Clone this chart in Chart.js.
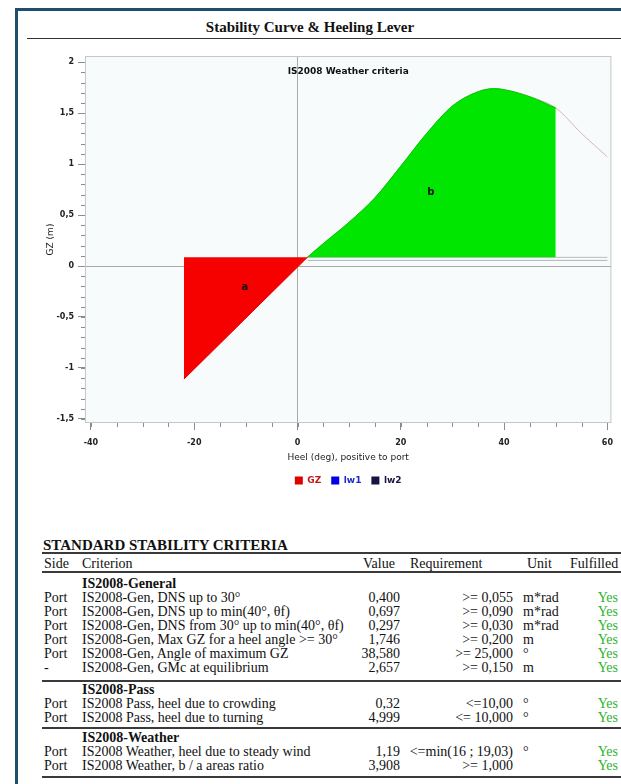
<!DOCTYPE html>
<html lang="en">
<head>
<meta charset="UTF-8">
<title>Stability Curve &amp; Heeling Lever</title>
<script src="https://cdn.jsdelivr.net/npm/chart.js"></script>
<style>
    body {
        margin: 0;
        width: 621px;
        height: 784px;
        overflow: hidden;
        position: relative;
        background: #fff;
        color: #111;
        font-family: "Liberation Serif", "Times New Roman", serif;
    }
    .frame {
        position: absolute;
        left: 15px;
        top: 8px;
        width: 700px;
        height: 800px;
        border-left: 3px solid #1d4e6e;
        border-top: 3px solid #1d4e6e;
    }
    .head {
        position: absolute;
        left: 27px;
        top: 17px;
        width: 566px;
        padding-right: 28px;
        height: 21px;
        line-height: 20px;
        border-bottom: 1.5px solid #333;
        text-align: center;
        font-weight: bold;
        font-size: 15px;
    }
    .chartbox {
        position: absolute;
        left: 20px;
        top: 46px;
        width: 601px;
        height: 450px;
    }
    .crit-title {
        position: absolute;
        left: 43px;
        top: 537px;
        font-weight: bold;
        font-size: 15px;
        line-height: 16px;
    }
    table {
        position: absolute;
        left: 42px;
        top: 552px;
        width: 579px;
        border-collapse: collapse;
        table-layout: fixed;
        font-size: 14px;
        line-height: 14px;
        border-top: 2px solid #3a3a3a;
    }
    th { font-weight: normal; text-align: left; padding: 3px 0 0 0; border-bottom: 2px solid #3a3a3a; white-space: nowrap; }
    td { padding: 0; white-space: nowrap; }
    tbody { border-bottom: 2px solid #3a3a3a; }
    .side { padding-left: 2px; }
    .crit { padding-left: 2px; }
    .val { text-align: right; padding-right: 2px; }
    .req { text-align: right; padding-right: 2px; }
    .unit { padding-left: 8px; }
    .ok { text-align: right; padding-right: 3px; color: #2cb52c; }
    .grp td { font-weight: bold; }
    .g1 .grp td { padding-top: 4px; }
    .g1 tr:last-child td { padding-bottom: 5px; }
    .g2 .grp td { padding-top: 1px; }
    .g2 tr:last-child td { padding-bottom: 2px; }
    .g3 .grp td { padding-top: 2px; }
    .g3 tr:last-child td { padding-bottom: 3px; }
</style>
</head>
<body>
<div class="frame"></div>
<div class="head">Stability Curve &amp; Heeling Lever</div>

<div class="chartbox"><canvas id="gzChart"></canvas></div>

<div class="crit-title">STANDARD STABILITY CRITERIA</div>
<table>
    <colgroup>
        <col style="width:38px"><col style="width:275px"><col style="width:47px">
        <col style="width:113px"><col style="width:50px"><col style="width:56px">
    </colgroup>
    <thead>
        <tr>
            <th style="padding-left:2px">Side</th>
            <th style="padding-left:2px">Criterion</th>
            <th style="padding-left:8px">Value</th>
            <th style="padding-left:8px">Requirement</th>
            <th style="padding-left:12px">Unit</th>
            <th style="padding-left:5px">Fulfilled</th>
        </tr>
    </thead>
    <tbody class="g1">
        <tr class="grp"><td></td><td class="crit">IS2008-General</td><td></td><td></td><td></td><td></td></tr>
        <tr><td class="side">Port</td><td class="crit">IS2008-Gen, DNS up to 30°</td><td class="val">0,400</td><td class="req">&gt;= 0,055</td><td class="unit">m*rad</td><td class="ok">Yes</td></tr>
        <tr><td class="side">Port</td><td class="crit">IS2008-Gen, DNS up to min(40°, θf)</td><td class="val">0,697</td><td class="req">&gt;= 0,090</td><td class="unit">m*rad</td><td class="ok">Yes</td></tr>
        <tr><td class="side">Port</td><td class="crit">IS2008-Gen, DNS from 30° up to min(40°, θf)</td><td class="val">0,297</td><td class="req">&gt;= 0,030</td><td class="unit">m*rad</td><td class="ok">Yes</td></tr>
        <tr><td class="side">Port</td><td class="crit">IS2008-Gen, Max GZ for a heel angle &gt;= 30°</td><td class="val">1,746</td><td class="req">&gt;= 0,200</td><td class="unit">m</td><td class="ok">Yes</td></tr>
        <tr><td class="side">Port</td><td class="crit">IS2008-Gen, Angle of maximum GZ</td><td class="val">38,580</td><td class="req">&gt;= 25,000</td><td class="unit">°</td><td class="ok">Yes</td></tr>
        <tr><td class="side">-</td><td class="crit">IS2008-Gen, GMc at equilibrium</td><td class="val">2,657</td><td class="req">&gt;= 0,150</td><td class="unit">m</td><td class="ok">Yes</td></tr>
    </tbody>
    <tbody class="g2">
        <tr class="grp"><td></td><td class="crit">IS2008-Pass</td><td></td><td></td><td></td><td></td></tr>
        <tr><td class="side">Port</td><td class="crit">IS2008 Pass, heel due to crowding</td><td class="val">0,32</td><td class="req">&lt;=10,00</td><td class="unit">°</td><td class="ok">Yes</td></tr>
        <tr><td class="side">Port</td><td class="crit">IS2008 Pass, heel due to turning</td><td class="val">4,999</td><td class="req">&lt;= 10,000</td><td class="unit">°</td><td class="ok">Yes</td></tr>
    </tbody>
    <tbody class="g3">
        <tr class="grp"><td></td><td class="crit">IS2008-Weather</td><td></td><td></td><td></td><td></td></tr>
        <tr><td class="side">Port</td><td class="crit">IS2008 Weather, heel due to steady wind</td><td class="val">1,19</td><td class="req">&lt;=min(16 ; 19,03)</td><td class="unit">°</td><td class="ok">Yes</td></tr>
        <tr><td class="side">Port</td><td class="crit">IS2008 Weather, b / a areas ratio</td><td class="val">3,908</td><td class="req">&gt;= 1,000</td><td class="unit"></td><td class="ok">Yes</td></tr>
    </tbody>
</table>

<script>
// GZ curve (heel in deg, GZ in m)
var heel = [-22, -20, -15, -10, -5, 0, 2, 5, 10, 15, 20, 25, 30, 35, 38, 40, 45, 50, 55, 60];
var gz = [-1.11, -1.01, -0.76, -0.51, -0.26, -0.01, 0.09, 0.22, 0.43, 0.67, 0.98, 1.30, 1.57, 1.71, 1.74, 1.73, 1.66, 1.55, 1.30, 1.07];

// heeling levers
var lwHeel = [2, 60];
var lw1 = [0.085, 0.085];
var lw2 = [0.055, 0.055];

// limits of the two areas
var areaAEnd = 2;    // heel where GZ meets the lever
var areaBEnd = 50;   // end of area b
var leverLevel = 0.085;

var legendNames = ['GZ', 'lw1', 'lw2'];
var legendBox = ['#e00000', '#0000e6', '#15153f'];
var legendText = ['#c01818', '#1c28c8', '#15153f'];

function pts(xs, ys, from, to) {
    var out = [];
    for (var i = 0; i < xs.length; i++) {
        if (xs[i] >= from && xs[i] <= to) out.push({x: xs[i], y: ys[i]});
    }
    return out;
}

function fmt(v) {
    return String(v).replace('.', ',');
}

// light plot background, frame, minor ticks and the texts inside the plot
var plotDecor = {
    id: 'plotDecor',
    beforeDraw: function (chart) {
        var ctx = chart.ctx, a = chart.chartArea;
        ctx.save();
        ctx.fillStyle = '#f7fbfc';
        ctx.fillRect(a.left, a.top, a.right - a.left, a.bottom - a.top);
        ctx.restore();
    },
    afterDraw: function (chart) {
        var ctx = chart.ctx, a = chart.chartArea;
        var x = chart.scales.x, y = chart.scales.y;
        ctx.save();
        ctx.strokeStyle = '#c4c8cc';
        ctx.lineWidth = 1;
        ctx.strokeRect(a.left + 0.5, a.top + 0.5, a.right - a.left - 1, a.bottom - a.top - 1);

        ctx.strokeStyle = '#8c8c8c';
        ctx.beginPath();
        for (var v = -40; v <= 60; v += 5) {
            var px = Math.round(x.getPixelForValue(v)) + 0.5;
            ctx.moveTo(px, a.bottom);
            ctx.lineTo(px, a.bottom + 4);
        }
        for (var i = -15; i <= 20; i++) {
            var py = Math.round(y.getPixelForValue(i / 10)) + 0.5;
            ctx.moveTo(a.left - 4, py);
            ctx.lineTo(a.left, py);
        }
        ctx.stroke();

        ctx.fillStyle = '#111';
        ctx.textAlign = 'center';
        ctx.textBaseline = 'middle';
        ctx.font = 'bold 9px "DejaVu Sans"';
        ctx.fillText('IS2008 Weather criteria', (a.left + a.right) / 2, a.top + 16);
        ctx.font = 'bold 10px "DejaVu Sans"';
        ctx.fillText('a', x.getPixelForValue(-10.2), y.getPixelForValue(-0.21));
        ctx.fillText('b', x.getPixelForValue(25.8), y.getPixelForValue(0.72));
        ctx.restore();
    }
};

var ctx = document.getElementById('gzChart').getContext('2d');
var gzChart = new Chart(ctx, {
    type: 'line',
    data: {
        datasets: [
            {
                label: 'a',
                data: pts(heel, gz, -90, areaAEnd),
                borderColor: '#f00000',
                borderWidth: 1,
                backgroundColor: '#f70000',
                fill: {value: leverLevel},
                order: 1
            },
            {
                label: 'b',
                data: pts(heel, gz, areaAEnd, areaBEnd),
                borderColor: '#00c800',
                borderWidth: 1,
                backgroundColor: '#00e600',
                fill: {value: leverLevel},
                order: 1
            },
            {
                label: 'GZ',
                data: pts(heel, gz, -90, 90),
                borderColor: '#dcb4b4',
                borderWidth: 1,
                fill: false,
                order: 3
            },
            {
                label: 'lw1',
                data: pts(lwHeel, lw1, -90, 90),
                borderColor: '#b8bcc0',
                borderWidth: 1,
                fill: false,
                order: 3
            },
            {
                label: 'lw2',
                data: pts(lwHeel, lw2, -90, 90),
                borderColor: '#b0b4b8',
                borderWidth: 1,
                fill: false,
                order: 3
            }
        ]
    },
    options: {
        responsive: true,
        maintainAspectRatio: false,
        animation: false,
        layout: {padding: {top: 10, right: 5, left: 0, bottom: 1}},
        elements: {
            point: {radius: 0, hoverRadius: 0},
            line: {cubicInterpolationMode: 'monotone'}
        },
        scales: {
            x: {
                type: 'linear',
                min: -41.15,
                max: 60.77,
                afterFit: function (s) { s.height = 43; },
                border: {display: false},
                grid: {
                    color: function (c) { return c.tick && c.tick.value === 0 ? '#a9a9a9' : 'rgba(0,0,0,0)'; },
                    tickColor: '#8c8c8c',
                    tickLength: 7
                },
                ticks: {
                    stepSize: 20,
                    includeBounds: false,
                    padding: 8,
                    color: '#222',
                    font: {family: 'DejaVu Sans', size: 8, weight: 'bold'},
                    callback: function (v) { return fmt(v); }
                },
                title: {
                    display: true,
                    text: 'Heel (deg), positive to port',
                    color: '#222',
                    font: {family: 'DejaVu Sans', size: 9},
                    padding: {top: 0, bottom: 3}
                }
            },
            y: {
                min: -1.54,
                max: 2.06,
                afterFit: function (s) { s.width = 65; },
                border: {display: false},
                grid: {
                    color: function (c) { return c.tick && c.tick.value === 0 ? '#a9a9a9' : 'rgba(0,0,0,0)'; },
                    tickColor: '#8c8c8c',
                    tickLength: 7
                },
                ticks: {
                    stepSize: 0.5,
                    includeBounds: false,
                    padding: 4,
                    color: '#222',
                    font: {family: 'DejaVu Sans', size: 8, weight: 'bold'},
                    callback: function (v) { return fmt(v); }
                },
                title: {
                    display: true,
                    text: 'GZ (m)',
                    color: '#222',
                    font: {family: 'DejaVu Sans', size: 9},
                    padding: {top: 25, bottom: 0}
                }
            }
        },
        plugins: {
            legend: {
                position: 'bottom',
                fullSize: false,
                labels: {
                    boxWidth: 8,
                    boxHeight: 8,
                    padding: 10,
                    font: {family: 'DejaVu Sans', size: 9, weight: 'bold'},
                    generateLabels: function () {
                        return legendNames.map(function (name, i) {
                            return {
                                text: name,
                                fillStyle: legendBox[i],
                                strokeStyle: legendBox[i],
                                lineWidth: 0,
                                fontColor: legendText[i],
                                hidden: false
                            };
                        });
                    }
                }
            },
            tooltip: {enabled: false}
        }
    },
    plugins: [plotDecor]
});
</script>
</body>
</html>
